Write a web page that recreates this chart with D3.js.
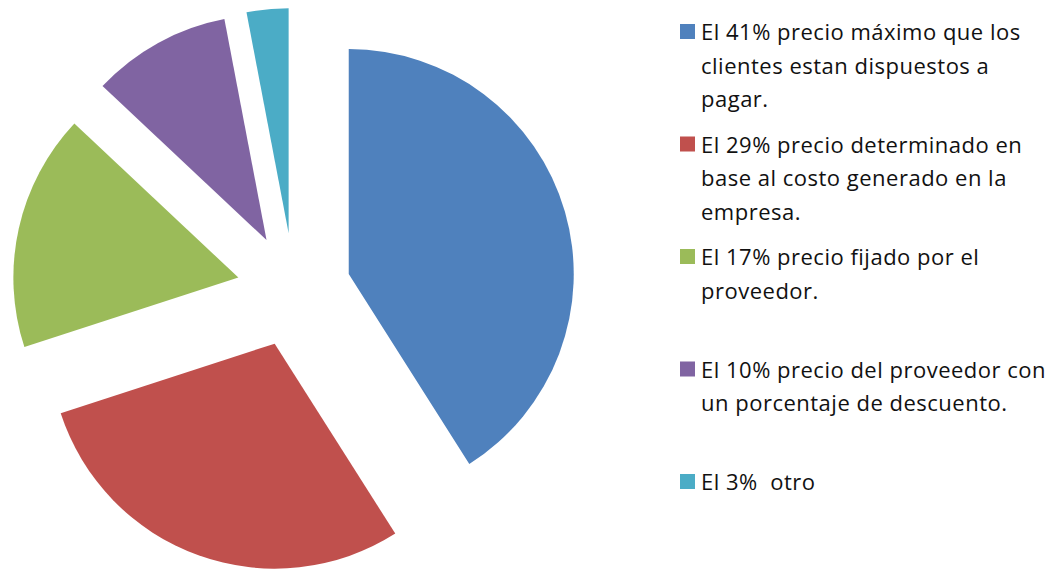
<!DOCTYPE html>
<html>
<head>
<meta charset="utf-8">
<script src="https://cdn.jsdelivr.net/npm/d3@7"></script>
<style>
  body { margin: 0; background: #fff; }
  text { font-family: "Open Sans", Lato, sans-serif; white-space: pre; }
</style>
</head>
<body>
<div id="chart"></div>
<script>
// data
var categories = ["precio máximo", "precio costo", "precio proveedor", "proveedor descuento", "otro"];
var values = [41, 29, 17, 10, 3];
var colors = ["#4F81BD", "#C0504D", "#9BBB59", "#8064A2", "#4BACC6"];
var legendLines = [
    ["El 41% precio máximo que los", "clientes estan dispuestos a", "pagar."],
    ["El 29% precio determinado en", "base al costo generado en la", "empresa."],
    ["El 17% precio fijado por el", "proveedor."],
    ["El 10% precio del proveedor con", "un porcentaje de descuento."],
    ["El 3%  otro"]
];

var width = 1055, height = 569;
var cx = 294, cy = 290, radius = 225, explode = 57;

var svg = d3.select("#chart")
    .append("svg")
    .attr("width", width)
    .attr("height", height);

var pie = d3.pie().sort(null).value(function (d) { return d; });
var arc = d3.arc().innerRadius(0).outerRadius(radius);
var arcs = pie(values);

// exploded slices
svg.append("g")
    .attr("transform", "translate(" + cx + "," + cy + ")")
    .selectAll("path")
    .data(arcs)
    .enter()
    .append("path")
    .attr("d", arc)
    .attr("fill", function (d, i) { return colors[i]; })
    .attr("transform", function (d) {
        var a = (d.startAngle + d.endAngle) / 2;
        return "translate(" + (Math.sin(a) * explode) + "," + (-Math.cos(a) * explode) + ")";
    });

// legend
var legendY = d3.scaleLinear().domain([0, 4]).range([40, 490]);
var legend = svg.append("g")
    .selectAll("g")
    .data(legendLines)
    .enter()
    .append("g")
    .attr("transform", function (d, i) { return "translate(680," + legendY(i) + ")"; });

legend.append("rect")
    .attr("x", 0)
    .attr("y", -16)
    .attr("width", 15)
    .attr("height", 15)
    .attr("fill", function (d, i) { return colors[i]; });

legend.append("text")
    .attr("x", 21)
    .attr("y", 0)
    .attr("font-size", 22)
    .attr("letter-spacing", 0.5)
    .attr("fill", "#111")
    .selectAll("tspan")
    .data(function (d) { return d; })
    .enter()
    .append("tspan")
    .attr("x", 21)
    .attr("dy", function (d, i) { return i === 0 ? 0 : 33.5; })
    .text(function (d) { return d; });
</script>
</body>
</html>
